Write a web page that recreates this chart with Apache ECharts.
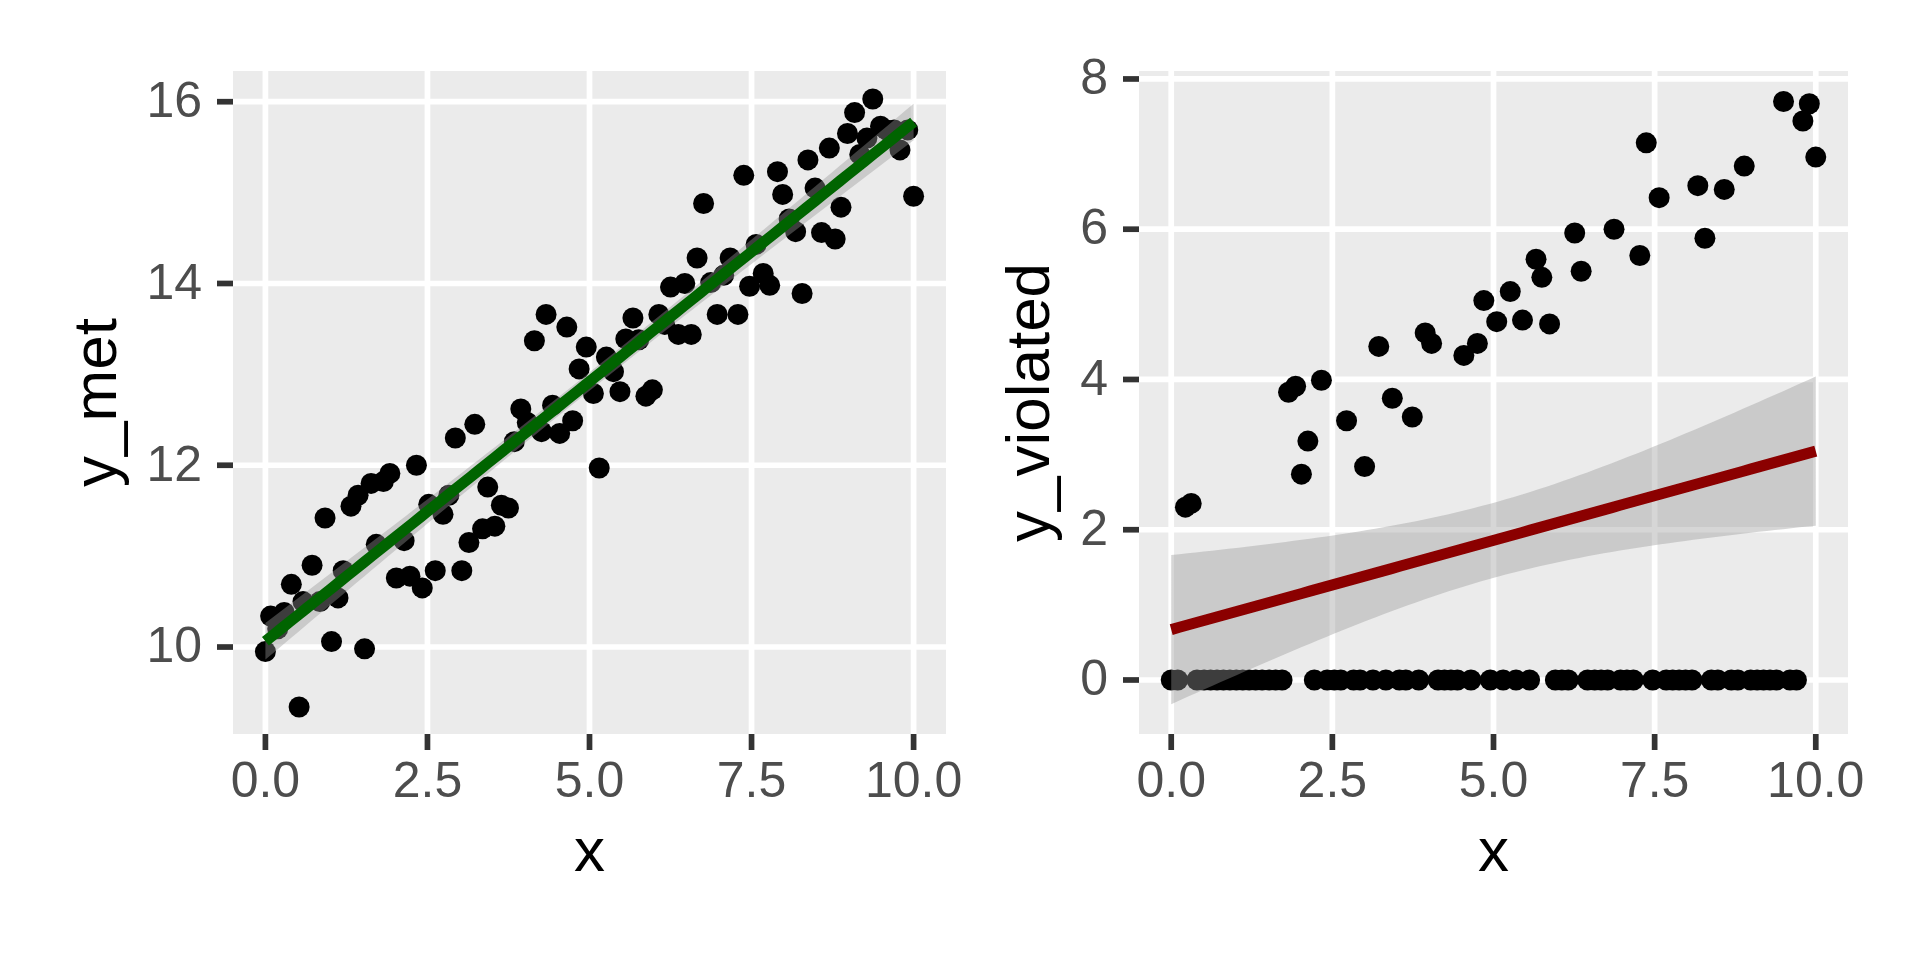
<!DOCTYPE html>
<html>
<head>
<meta charset="utf-8">
<script src="https://cdn.jsdelivr.net/npm/echarts@6/dist/echarts.min.js"></script>
<style>
html, body { margin: 0; padding: 0; background: #fff; }
#charts { width: 1920px; height: 960px; }
</style>
</head>
<body>
<div id="charts"></div>
<script>
// left panel: assumption met
var xMet = [0, 0.08, 0.19, 0.29, 0.40, 0.52, 0.58, 0.72, 0.84, 0.92,
    1.02, 1.12, 1.20, 1.32, 1.43, 1.53, 1.63, 1.71, 1.82, 1.92,
    2.02, 2.14, 2.23, 2.33, 2.42, 2.52, 2.62, 2.74, 2.83, 2.93,
    3.03, 3.14, 3.23, 3.35, 3.43, 3.54, 3.64, 3.75, 3.84, 3.94,
    4.04, 4.15, 4.26, 4.33, 4.43, 4.54, 4.65, 4.74, 4.84, 4.95,
    5.06, 5.15, 5.26, 5.37, 5.47, 5.56, 5.67, 5.76, 5.87, 5.97,
    6.07, 6.16, 6.25, 6.37, 6.47, 6.57, 6.66, 6.76, 6.87, 6.97,
    7.07, 7.17, 7.29, 7.38, 7.47, 7.57, 7.68, 7.78, 7.90, 7.98,
    8.08, 8.18, 8.28, 8.37, 8.48, 8.58, 8.70, 8.79, 8.88, 8.98,
    9.09, 9.17, 9.28, 9.37, 9.49, 9.58, 9.70, 9.79, 9.91, 10.0];
var yMet = [9.95, 10.34, 10.20, 10.38, 10.69, 9.34, 10.50, 10.90, 10.50, 11.42,
    10.06, 10.54, 10.84, 11.55, 11.67, 9.98, 11.80, 11.13, 11.82, 11.91,
    10.76, 11.17, 10.78, 12.00, 10.65, 11.57, 10.84, 11.46, 11.67, 12.30,
    10.84, 11.15, 12.45, 11.30, 11.76, 11.33, 11.56, 11.53, 12.26, 12.62,
    12.47, 13.37, 12.37, 13.66, 12.66, 12.35, 13.52, 12.49, 13.06, 13.30,
    12.79, 11.97, 13.19, 13.03, 12.81, 13.39, 13.62, 13.38, 12.76, 12.83,
    13.66, 13.55, 13.96, 13.44, 14.00, 13.44, 14.28, 14.88, 14.01, 13.66,
    14.09, 14.28, 13.66, 15.19, 13.97, 14.43, 14.11, 13.98, 15.23, 14.98,
    14.71, 14.57, 13.89, 15.36, 15.05, 14.56, 15.49, 14.49, 14.84, 15.65,
    15.88, 15.42, 15.60, 16.03, 15.73, 15.69, 15.69, 15.47, 15.69, 14.96];

// right panel: assumption violated (points above zero, and the row at zero)
var xViolUp = [0.22, 0.31, 1.82, 1.93, 2.02, 2.12, 2.33, 2.72, 3.00, 3.22,
    3.43, 3.74, 3.94, 4.04, 4.54, 4.75, 4.85, 5.05, 5.26, 5.45,
    5.66, 5.75, 5.87, 6.26, 6.36, 6.87, 7.27, 7.37, 7.57, 8.17,
    8.28, 8.58, 8.89, 9.50, 9.80, 9.90, 10.0];
var yViolUp = [2.30, 2.35, 3.83, 3.91, 2.74, 3.18, 3.99, 3.45, 2.84, 4.44,
    3.75, 3.50, 4.62, 4.48, 4.32, 4.48, 5.05, 4.77, 5.17, 4.79,
    5.60, 5.36, 4.74, 5.95, 5.44, 6.00, 5.65, 7.15, 6.42, 6.58,
    5.88, 6.53, 6.84, 7.70, 7.44, 7.67, 6.96];
var xViolZero = [0.00, 0.10, 0.40, 0.51, 0.61, 0.71, 0.81, 0.91, 1.01, 1.11,
    1.21, 1.31, 1.41, 1.52, 1.62, 1.72, 2.22, 2.42, 2.53, 2.63,
    2.83, 2.93, 3.13, 3.33, 3.54, 3.64, 3.84, 4.14, 4.24, 4.34,
    4.44, 4.65, 4.95, 5.15, 5.35, 5.56, 5.96, 6.06, 6.16, 6.46,
    6.57, 6.67, 6.77, 6.97, 7.07, 7.17, 7.47, 7.68, 7.78, 7.88,
    7.98, 8.08, 8.38, 8.48, 8.69, 8.79, 8.99, 9.09, 9.19, 9.29,
    9.39, 9.60, 9.70];

var xTicks = [0, 2.5, 5, 7.5, 10];
var xTickLabels = ['0.0', '2.5', '5.0', '7.5', '10.0'];
var yMetTicks = [10, 12, 14, 16];
var yViolTicks = [0, 2, 4, 6, 8];

var FONT = '"Liberation Sans", Arial, sans-serif';

// least squares line with 95% band, like geom_smooth(method = "lm")
function lmFit(xs, ys) {
    var n = xs.length, mx = 0, my = 0, i;
    for (i = 0; i < n; i++) { mx += xs[i]; my += ys[i]; }
    mx /= n; my /= n;
    var sxx = 0, sxy = 0;
    for (i = 0; i < n; i++) {
        sxx += (xs[i] - mx) * (xs[i] - mx);
        sxy += (xs[i] - mx) * (ys[i] - my);
    }
    var b = sxy / sxx, a = my - b * mx;
    var rss = 0;
    for (i = 0; i < n; i++) { rss += Math.pow(ys[i] - a - b * xs[i], 2); }
    var s = Math.sqrt(rss / (n - 2));
    var t = 1.984;
    var lo = Math.min.apply(null, xs), hi = Math.max.apply(null, xs);
    var line = [], upper = [], lower = [];
    for (i = 0; i < 80; i++) {
        var x = lo + (hi - lo) * i / 79;
        var f = a + b * x;
        var se = s * Math.sqrt(1 / n + (x - mx) * (x - mx) / sxx);
        line.push([x, f]);
        upper.push([x, f + t * se]);
        lower.push([x, f - t * se]);
    }
    return { line: line, upper: upper, lower: lower };
}

var violX = xViolUp.concat(xViolZero);
var violY = yViolUp.concat(xViolZero.map(function () { return 0; }));

var panels = [
    {
        left: 233, width: 713, xMin: -0.5, xMax: 10.5, yMin: 9.043, yMax: 16.338,
        yTicks: yMetTicks, color: '#006400', title: 'y_met', titleX: 98.5,
        points: xMet.map(function (x, i) { return [x, yMet[i]]; }),
        fit: lmFit(xMet, yMet)
    },
    {
        left: 1139, width: 709, xMin: -0.5, xMax: 10.5, yMin: -0.719, yMax: 8.106,
        yTicks: yViolTicks, color: '#8B0000', title: 'y_violated', titleX: 1031.5,
        points: violX.map(function (x, i) { return [x, violY[i]]; }),
        fit: lmFit(violX, violY)
    }
];
var TOP = 71, HEIGHT = 663;

function axisItems(p) {
    var items = [];
    xTicks.forEach(function (v, i) { items.push({ v: v, kind: 0, text: xTickLabels[i] }); });
    p.yTicks.forEach(function (v) { items.push({ v: v, kind: 1, text: String(v) }); });
    return items;
}

function axisRenderer(p, items) {
    return function (params, api) {
        var it = items[params.dataIndex];
        var a, b, children;
        var labelStyle = { fill: '#4D4D4D', fontSize: 50, fontFamily: FONT, text: it.text, verticalAlign: 'middle' };
        if (it.kind === 0) {
            a = api.coord([it.v, p.yMax]);
            b = api.coord([it.v, p.yMin]);
            labelStyle.align = 'center';
            children = [
                { type: 'line', shape: { x1: a[0], y1: a[1], x2: b[0], y2: b[1] }, style: { stroke: '#FFFFFF', lineWidth: 5.7 } },
                { type: 'line', shape: { x1: b[0], y1: b[1], x2: b[0], y2: b[1] + 16 }, style: { stroke: '#333333', lineWidth: 5.7 } },
                { type: 'text', x: b[0], y: b[1] + 49.5, style: labelStyle }
            ];
        } else {
            a = api.coord([p.xMin, it.v]);
            b = api.coord([p.xMax, it.v]);
            labelStyle.align = 'right';
            children = [
                { type: 'line', shape: { x1: a[0], y1: a[1], x2: b[0], y2: b[1] }, style: { stroke: '#FFFFFF', lineWidth: 5.7 } },
                { type: 'line', shape: { x1: a[0] - 16, y1: a[1], x2: a[0], y2: a[1] }, style: { stroke: '#333333', lineWidth: 5.7 } },
                { type: 'text', x: a[0] - 31, y: a[1] + 1.5, style: labelStyle }
            ];
        }
        return { type: 'group', children: children };
    };
}

function ribbonRenderer(p) {
    return function (params, api) {
        var pts = p.fit.upper.map(function (d) { return api.coord(d); })
            .concat(p.fit.lower.slice().reverse().map(function (d) { return api.coord(d); }));
        return { type: 'polygon', shape: { points: pts }, style: { fill: 'rgba(153,153,153,0.4)' } };
    };
}

var grids = [], xAxes = [], yAxes = [], series = [], graphics = [];
panels.forEach(function (p, k) {
    grids.push({ left: p.left, top: TOP, width: p.width, height: HEIGHT, show: true,
        backgroundColor: '#EBEBEB', borderWidth: 0 });
    xAxes.push({ type: 'value', gridIndex: k, min: p.xMin, max: p.xMax, show: false });
    yAxes.push({ type: 'value', gridIndex: k, min: p.yMin, max: p.yMax, show: false });
    var items = axisItems(p);
    series.push({
        type: 'custom', xAxisIndex: k, yAxisIndex: k, clip: false, silent: true, z: 1,
        data: items.map(function (it) { return [it.kind === 0 ? it.v : 0, it.kind === 1 ? it.v : 0]; }),
        renderItem: axisRenderer(p, items)
    });
    series.push({
        type: 'scatter', xAxisIndex: k, yAxisIndex: k, z: 2, silent: true,
        symbol: 'circle', symbolSize: 21,
        itemStyle: { color: '#000000', opacity: 1 },
        data: p.points
    });
    series.push({
        type: 'custom', xAxisIndex: k, yAxisIndex: k, clip: false, silent: true, z: 3,
        data: [p.fit.line[0]],
        renderItem: ribbonRenderer(p)
    });
    series.push({
        type: 'line', xAxisIndex: k, yAxisIndex: k, z: 4, silent: true,
        showSymbol: false, symbol: 'none',
        lineStyle: { color: p.color, width: 11 },
        data: p.fit.line
    });
    graphics.push({
        type: 'text', x: p.left + p.width / 2, y: 853.5,
        style: { text: 'x', fill: '#000000', fontSize: 62, fontFamily: FONT, align: 'center', verticalAlign: 'middle' }
    });
    graphics.push({
        type: 'text', x: p.titleX, y: TOP + HEIGHT / 2, rotation: Math.PI / 2,
        style: { text: p.title, fill: '#000000', fontSize: 62, fontFamily: FONT, align: 'center', verticalAlign: 'middle' }
    });
});

var myChart = echarts.init(document.getElementById('charts'));
myChart.setOption({
    animation: false,
    backgroundColor: '#FFFFFF',
    grid: grids,
    xAxis: xAxes,
    yAxis: yAxes,
    graphic: graphics,
    series: series
});
</script>
</body>
</html>
